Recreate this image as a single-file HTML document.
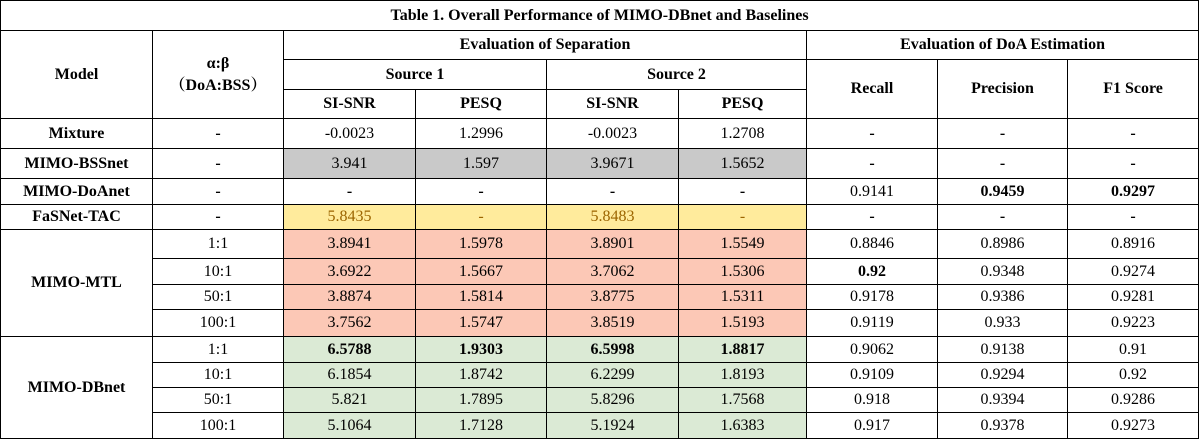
<!DOCTYPE html>
<html><head><meta charset="utf-8"><style>
body{margin:0;width:1200px;height:440px;background:#fff;overflow:hidden}
table{position:absolute;left:0;top:0;border-collapse:collapse;table-layout:fixed;width:1199px;font-family:"Liberation Serif","Times New Roman",Times,"DejaVu Serif",serif;font-size:16px;color:#000}
td{border:1px solid #000;text-align:center;vertical-align:middle;padding:0;white-space:nowrap;overflow:hidden;line-height:1}
.h{font-weight:bold;font-size:16px}
.b{font-weight:bold}
.g{background:#c9c9c9}
.y{background:#ffeb9c;color:#9c6500}
.p{background:#fcc8b6}
.gr{background:#dbead5}
</style></head><body>
<table>
<colgroup><col style="width:152px"><col style="width:131px"><col style="width:132px"><col style="width:131px"><col style="width:132px"><col style="width:128px"><col style="width:131px"><col style="width:130px"><col style="width:131px"></colgroup>
<tr style="height:30px"><td colspan="9" class="h">Table 1. Overall Performance of MIMO-DBnet and Baselines</td></tr>
<tr style="height:29px"><td rowspan="3" class="h">Model</td><td rowspan="3" class="h" style="line-height:1.25">α:β<br><span style="font-family:'Noto Serif CJK SC','Liberation Serif',serif">（</span>DoA:BSS<span style="font-family:'Noto Serif CJK SC','Liberation Serif',serif">）</span></td><td colspan="4" class="h">Evaluation of Separation</td><td colspan="3" class="h">Evaluation of DoA Estimation</td></tr>
<tr style="height:30px"><td colspan="2" class="h">Source 1</td><td colspan="2" class="h">Source 2</td><td rowspan="2" class="h">Recall</td><td rowspan="2" class="h">Precision</td><td rowspan="2" class="h">F1 Score</td></tr>
<tr style="height:29px"><td class="h">SI-SNR</td><td class="h">PESQ</td><td class="h">SI-SNR</td><td class="h">PESQ</td></tr>
<tr style="height:30px"><td class="h">Mixture</td><td class="b">-</td><td>-0.0023</td><td>1.2996</td><td>-0.0023</td><td>1.2708</td><td class="b">-</td><td class="b">-</td><td class="b">-</td></tr>
<tr style="height:30px"><td class="h">MIMO-BSSnet</td><td class="b">-</td><td class="g">3.941</td><td class="g">1.597</td><td class="g">3.9671</td><td class="g">1.5652</td><td class="b">-</td><td class="b">-</td><td class="b">-</td></tr>
<tr style="height:26px"><td class="h">MIMO-DoAnet</td><td class="b">-</td><td class="b">-</td><td class="b">-</td><td class="b">-</td><td class="b">-</td><td>0.9141</td><td class="b">0.9459</td><td class="b">0.9297</td></tr>
<tr style="height:25px"><td class="h">FaSNet-TAC</td><td class="b">-</td><td class="y">5.8435</td><td class="y">-</td><td class="y">5.8483</td><td class="y">-</td><td class="b">-</td><td class="b">-</td><td class="b">-</td></tr>
<tr style="height:29px"><td rowspan="4" class="h">MIMO-MTL</td><td>1:1</td><td class="p">3.8941</td><td class="p">1.5978</td><td class="p">3.8901</td><td class="p">1.5549</td><td>0.8846</td><td>0.8986</td><td>0.8916</td></tr>
<tr style="height:26px"><td>10:1</td><td class="p">3.6922</td><td class="p">1.5667</td><td class="p">3.7062</td><td class="p">1.5306</td><td class="b">0.92</td><td>0.9348</td><td>0.9274</td></tr>
<tr style="height:25px"><td>50:1</td><td class="p">3.8874</td><td class="p">1.5814</td><td class="p">3.8775</td><td class="p">1.5311</td><td>0.9178</td><td>0.9386</td><td>0.9281</td></tr>
<tr style="height:27px"><td>100:1</td><td class="p">3.7562</td><td class="p">1.5747</td><td class="p">3.8519</td><td class="p">1.5193</td><td>0.9119</td><td>0.933</td><td>0.9223</td></tr>
<tr style="height:26px"><td rowspan="4" class="h">MIMO-DBnet</td><td>1:1</td><td class="gr b">6.5788</td><td class="gr b">1.9303</td><td class="gr b">6.5998</td><td class="gr b">1.8817</td><td>0.9062</td><td>0.9138</td><td>0.91</td></tr>
<tr style="height:25px"><td>10:1</td><td class="gr">6.1854</td><td class="gr">1.8742</td><td class="gr">6.2299</td><td class="gr">1.8193</td><td>0.9109</td><td>0.9294</td><td>0.92</td></tr>
<tr style="height:25px"><td>50:1</td><td class="gr">5.821</td><td class="gr">1.7895</td><td class="gr">5.8296</td><td class="gr">1.7568</td><td>0.918</td><td>0.9394</td><td>0.9286</td></tr>
<tr style="height:26px"><td>100:1</td><td class="gr">5.1064</td><td class="gr">1.7128</td><td class="gr">5.1924</td><td class="gr">1.6383</td><td>0.917</td><td>0.9378</td><td>0.9273</td></tr>
</table>
</body></html>
